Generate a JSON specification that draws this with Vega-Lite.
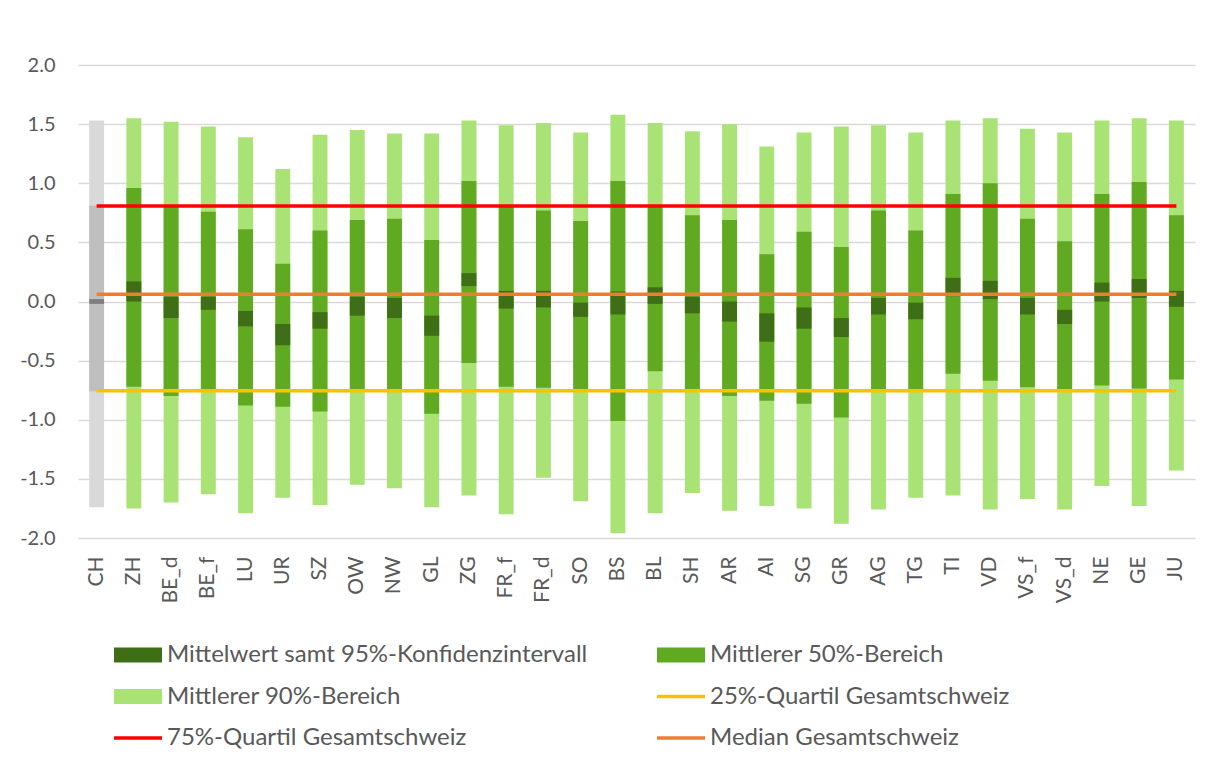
{
  "$schema": "https://vega.github.io/schema/vega-lite/v6.json",
  "width": 1117,
  "height": 473,
  "autosize": {"type": "none"},
  "padding": {"left": 78, "top": 65, "right": 14, "bottom": 229},
  "background": "#ffffff",
  "config": {"view": {"stroke": null}, "font": "Lato"},
  "datasets": {
    "ranges": [
      {"region": "CH", "series": "Mittlerer 90%-Bereich", "lo": -1.74, "hi": 1.53},
      {"region": "ZH", "series": "Mittlerer 90%-Bereich", "lo": -1.75, "hi": 1.55},
      {"region": "BE_d", "series": "Mittlerer 90%-Bereich", "lo": -1.70, "hi": 1.52},
      {"region": "BE_f", "series": "Mittlerer 90%-Bereich", "lo": -1.63, "hi": 1.48},
      {"region": "LU", "series": "Mittlerer 90%-Bereich", "lo": -1.79, "hi": 1.39},
      {"region": "UR", "series": "Mittlerer 90%-Bereich", "lo": -1.66, "hi": 1.12},
      {"region": "SZ", "series": "Mittlerer 90%-Bereich", "lo": -1.72, "hi": 1.41},
      {"region": "OW", "series": "Mittlerer 90%-Bereich", "lo": -1.55, "hi": 1.45},
      {"region": "NW", "series": "Mittlerer 90%-Bereich", "lo": -1.58, "hi": 1.42},
      {"region": "GL", "series": "Mittlerer 90%-Bereich", "lo": -1.74, "hi": 1.42},
      {"region": "ZG", "series": "Mittlerer 90%-Bereich", "lo": -1.64, "hi": 1.53},
      {"region": "FR_f", "series": "Mittlerer 90%-Bereich", "lo": -1.80, "hi": 1.49},
      {"region": "FR_d", "series": "Mittlerer 90%-Bereich", "lo": -1.49, "hi": 1.51},
      {"region": "SO", "series": "Mittlerer 90%-Bereich", "lo": -1.69, "hi": 1.43},
      {"region": "BS", "series": "Mittlerer 90%-Bereich", "lo": -1.96, "hi": 1.58},
      {"region": "BL", "series": "Mittlerer 90%-Bereich", "lo": -1.79, "hi": 1.51},
      {"region": "SH", "series": "Mittlerer 90%-Bereich", "lo": -1.62, "hi": 1.44},
      {"region": "AR", "series": "Mittlerer 90%-Bereich", "lo": -1.77, "hi": 1.50},
      {"region": "AI", "series": "Mittlerer 90%-Bereich", "lo": -1.73, "hi": 1.31},
      {"region": "SG", "series": "Mittlerer 90%-Bereich", "lo": -1.75, "hi": 1.43},
      {"region": "GR", "series": "Mittlerer 90%-Bereich", "lo": -1.88, "hi": 1.48},
      {"region": "AG", "series": "Mittlerer 90%-Bereich", "lo": -1.76, "hi": 1.49},
      {"region": "TG", "series": "Mittlerer 90%-Bereich", "lo": -1.66, "hi": 1.43},
      {"region": "TI", "series": "Mittlerer 90%-Bereich", "lo": -1.64, "hi": 1.53},
      {"region": "VD", "series": "Mittlerer 90%-Bereich", "lo": -1.76, "hi": 1.55},
      {"region": "VS_f", "series": "Mittlerer 90%-Bereich", "lo": -1.67, "hi": 1.46},
      {"region": "VS_d", "series": "Mittlerer 90%-Bereich", "lo": -1.76, "hi": 1.43},
      {"region": "NE", "series": "Mittlerer 90%-Bereich", "lo": -1.56, "hi": 1.53},
      {"region": "GE", "series": "Mittlerer 90%-Bereich", "lo": -1.73, "hi": 1.55},
      {"region": "JU", "series": "Mittlerer 90%-Bereich", "lo": -1.43, "hi": 1.53},
      {"region": "CH", "series": "Mittlerer 50%-Bereich", "lo": -0.76, "hi": 0.81},
      {"region": "ZH", "series": "Mittlerer 50%-Bereich", "lo": -0.72, "hi": 0.96},
      {"region": "BE_d", "series": "Mittlerer 50%-Bereich", "lo": -0.80, "hi": 0.80},
      {"region": "BE_f", "series": "Mittlerer 50%-Bereich", "lo": -0.755, "hi": 0.76},
      {"region": "LU", "series": "Mittlerer 50%-Bereich", "lo": -0.88, "hi": 0.61},
      {"region": "UR", "series": "Mittlerer 50%-Bereich", "lo": -0.89, "hi": 0.32},
      {"region": "SZ", "series": "Mittlerer 50%-Bereich", "lo": -0.93, "hi": 0.60},
      {"region": "OW", "series": "Mittlerer 50%-Bereich", "lo": -0.755, "hi": 0.69},
      {"region": "NW", "series": "Mittlerer 50%-Bereich", "lo": -0.755, "hi": 0.70},
      {"region": "GL", "series": "Mittlerer 50%-Bereich", "lo": -0.95, "hi": 0.52},
      {"region": "ZG", "series": "Mittlerer 50%-Bereich", "lo": -0.52, "hi": 1.02},
      {"region": "FR_f", "series": "Mittlerer 50%-Bereich", "lo": -0.72, "hi": 0.80},
      {"region": "FR_d", "series": "Mittlerer 50%-Bereich", "lo": -0.73, "hi": 0.77},
      {"region": "SO", "series": "Mittlerer 50%-Bereich", "lo": -0.755, "hi": 0.68},
      {"region": "BS", "series": "Mittlerer 50%-Bereich", "lo": -1.01, "hi": 1.02},
      {"region": "BL", "series": "Mittlerer 50%-Bereich", "lo": -0.59, "hi": 0.80},
      {"region": "SH", "series": "Mittlerer 50%-Bereich", "lo": -0.755, "hi": 0.73},
      {"region": "AR", "series": "Mittlerer 50%-Bereich", "lo": -0.80, "hi": 0.69},
      {"region": "AI", "series": "Mittlerer 50%-Bereich", "lo": -0.84, "hi": 0.40},
      {"region": "SG", "series": "Mittlerer 50%-Bereich", "lo": -0.865, "hi": 0.59},
      {"region": "GR", "series": "Mittlerer 50%-Bereich", "lo": -0.98, "hi": 0.46},
      {"region": "AG", "series": "Mittlerer 50%-Bereich", "lo": -0.755, "hi": 0.77},
      {"region": "TG", "series": "Mittlerer 50%-Bereich", "lo": -0.755, "hi": 0.60},
      {"region": "TI", "series": "Mittlerer 50%-Bereich", "lo": -0.61, "hi": 0.91},
      {"region": "VD", "series": "Mittlerer 50%-Bereich", "lo": -0.67, "hi": 1.00},
      {"region": "VS_f", "series": "Mittlerer 50%-Bereich", "lo": -0.725, "hi": 0.70},
      {"region": "VS_d", "series": "Mittlerer 50%-Bereich", "lo": -0.755, "hi": 0.51},
      {"region": "NE", "series": "Mittlerer 50%-Bereich", "lo": -0.71, "hi": 0.91},
      {"region": "GE", "series": "Mittlerer 50%-Bereich", "lo": -0.735, "hi": 1.01},
      {"region": "JU", "series": "Mittlerer 50%-Bereich", "lo": -0.66, "hi": 0.73},
      {"region": "CH", "series": "Mittelwert samt 95%-Konfidenzintervall", "lo": -0.02, "hi": 0.02},
      {"region": "ZH", "series": "Mittelwert samt 95%-Konfidenzintervall", "lo": 0.0, "hi": 0.17},
      {"region": "BE_d", "series": "Mittelwert samt 95%-Konfidenzintervall", "lo": -0.14, "hi": 0.04},
      {"region": "BE_f", "series": "Mittelwert samt 95%-Konfidenzintervall", "lo": -0.07, "hi": 0.04},
      {"region": "LU", "series": "Mittelwert samt 95%-Konfidenzintervall", "lo": -0.21, "hi": -0.08},
      {"region": "UR", "series": "Mittelwert samt 95%-Konfidenzintervall", "lo": -0.37, "hi": -0.19},
      {"region": "SZ", "series": "Mittelwert samt 95%-Konfidenzintervall", "lo": -0.23, "hi": -0.09},
      {"region": "OW", "series": "Mittelwert samt 95%-Konfidenzintervall", "lo": -0.12, "hi": 0.04},
      {"region": "NW", "series": "Mittelwert samt 95%-Konfidenzintervall", "lo": -0.14, "hi": 0.03},
      {"region": "GL", "series": "Mittelwert samt 95%-Konfidenzintervall", "lo": -0.29, "hi": -0.12},
      {"region": "ZG", "series": "Mittelwert samt 95%-Konfidenzintervall", "lo": 0.13, "hi": 0.24},
      {"region": "FR_f", "series": "Mittelwert samt 95%-Konfidenzintervall", "lo": -0.06, "hi": 0.09},
      {"region": "FR_d", "series": "Mittelwert samt 95%-Konfidenzintervall", "lo": -0.05, "hi": 0.09},
      {"region": "SO", "series": "Mittelwert samt 95%-Konfidenzintervall", "lo": -0.13, "hi": -0.01},
      {"region": "BS", "series": "Mittelwert samt 95%-Konfidenzintervall", "lo": -0.11, "hi": 0.085},
      {"region": "BL", "series": "Mittelwert samt 95%-Konfidenzintervall", "lo": -0.02, "hi": 0.12},
      {"region": "SH", "series": "Mittelwert samt 95%-Konfidenzintervall", "lo": -0.10, "hi": 0.04},
      {"region": "AR", "series": "Mittelwert samt 95%-Konfidenzintervall", "lo": -0.17, "hi": 0.0},
      {"region": "AI", "series": "Mittelwert samt 95%-Konfidenzintervall", "lo": -0.34, "hi": -0.10},
      {"region": "SG", "series": "Mittelwert samt 95%-Konfidenzintervall", "lo": -0.23, "hi": -0.05},
      {"region": "GR", "series": "Mittelwert samt 95%-Konfidenzintervall", "lo": -0.30, "hi": -0.14},
      {"region": "AG", "series": "Mittelwert samt 95%-Konfidenzintervall", "lo": -0.11, "hi": 0.03},
      {"region": "TG", "series": "Mittelwert samt 95%-Konfidenzintervall", "lo": -0.15, "hi": -0.01},
      {"region": "TI", "series": "Mittelwert samt 95%-Konfidenzintervall", "lo": 0.045, "hi": 0.20},
      {"region": "VD", "series": "Mittelwert samt 95%-Konfidenzintervall", "lo": 0.02, "hi": 0.175},
      {"region": "VS_f", "series": "Mittelwert samt 95%-Konfidenzintervall", "lo": -0.11, "hi": 0.03},
      {"region": "VS_d", "series": "Mittelwert samt 95%-Konfidenzintervall", "lo": -0.19, "hi": -0.07},
      {"region": "NE", "series": "Mittelwert samt 95%-Konfidenzintervall", "lo": 0.0, "hi": 0.16},
      {"region": "GE", "series": "Mittelwert samt 95%-Konfidenzintervall", "lo": 0.03, "hi": 0.19},
      {"region": "JU", "series": "Mittelwert samt 95%-Konfidenzintervall", "lo": -0.045, "hi": 0.09}
    ],
    "lines": [
      {"series": "25%-Quartil Gesamtschweiz", "value": -0.755},
      {"series": "75%-Quartil Gesamtschweiz", "value": 0.808},
      {"series": "Median Gesamtschweiz", "value": 0.062}
    ]
  },
  "layer": [
    {
      "data": {"name": "ranges"},
      "mark": {"type": "bar"},
      "encoding": {
        "x": {
          "field": "region", "type": "nominal", "sort": null,
          "scale": {"paddingInner": 0.6, "paddingOuter": 0.3},
          "axis": {"title": null, "labelAngle": -90, "labelFontSize": 21, "labelColor": "#595959", "labelFont": "Lato", "ticks": false, "domain": false, "labelPadding": 18}
        },
        "y": {
          "field": "lo", "type": "quantitative",
          "scale": {"domain": [-2, 2], "nice": false, "zero": false},
          "axis": {"title": null, "values": [-2, -1.5, -1, -0.5, 0, 0.5, 1, 1.5, 2], "labelExpr": "replace(format(datum.value, '.1f'), '\u2212', '-')", "labelFontSize": 20, "labelColor": "#595959", "labelFont": "Lato", "ticks": false, "domain": false, "labelPadding": 23, "gridColor": "#d9d9d9", "gridWidth": 1.3}
        },
        "y2": {"field": "hi"},
        "color": {
          "field": "series", "type": "nominal",
          "condition": [
            {"test": "datum.region === 'CH' && datum.series === 'Mittlerer 90%-Bereich'", "value": "#d9d9d9"},
            {"test": "datum.region === 'CH' && datum.series === 'Mittlerer 50%-Bereich'", "value": "#bfbfbf"},
            {"test": "datum.region === 'CH'", "value": "#7f7f7f"}
          ],
          "scale": {
            "domain": ["Mittelwert samt 95%-Konfidenzintervall", "Mittlerer 90%-Bereich", "75%-Quartil Gesamtschweiz", "Mittlerer 50%-Bereich", "25%-Quartil Gesamtschweiz", "Median Gesamtschweiz"],
            "range": ["#3e6f16", "#a9e375", "#ff0000", "#60aa22", "#ffc000", "#ed7d31"]
          },
          "legend": {
            "orient": "none", "legendX": 48, "legendY": 578, "columns": 2, "title": null,
            "values": ["Mittelwert samt 95%-Konfidenzintervall", "Mittlerer 90%-Bereich", "75%-Quartil Gesamtschweiz", "Mittlerer 50%-Bereich", "25%-Quartil Gesamtschweiz", "Median Gesamtschweiz"],
            "labelFont": "Lato", "labelFontSize": 24, "labelColor": "#595959", "labelLimit": 700, "labelOffset": 17,
            "symbolSize": 900, "rowPadding": 17.5, "columnPadding": 62, "padding": 0,
            "encode": {
              "symbols": {
                "update": {
                  "shape": {"signal": "indexof(['25%-Quartil Gesamtschweiz','75%-Quartil Gesamtschweiz','Median Gesamtschweiz'], datum.label) >= 0 ? 'M-1.6,0H1.6' : 'M-1.6,-0.5H1.6V0.5H-1.6Z'"},
                  "strokeWidth": {"signal": "indexof(['25%-Quartil Gesamtschweiz','75%-Quartil Gesamtschweiz','Median Gesamtschweiz'], datum.label) >= 0 ? 3.5 : 0"},
                  "fill": {"scale": "color", "field": "value"},
                  "stroke": {"scale": "color", "field": "value"},
                  "fillOpacity": {"value": 1},
                  "strokeOpacity": {"value": 1}
                }
              }
            }
          }
        }
      }
    },
    {
      "data": {"name": "lines"},
      "mark": {"type": "rule", "strokeWidth": 3.5},
      "encoding": {
        "x": {"datum": "CH", "type": "nominal"},
        "x2": {"datum": "JU"},
        "y": {"field": "value", "type": "quantitative"},
        "color": {"field": "series", "type": "nominal"}
      }
    }
  ]
}
